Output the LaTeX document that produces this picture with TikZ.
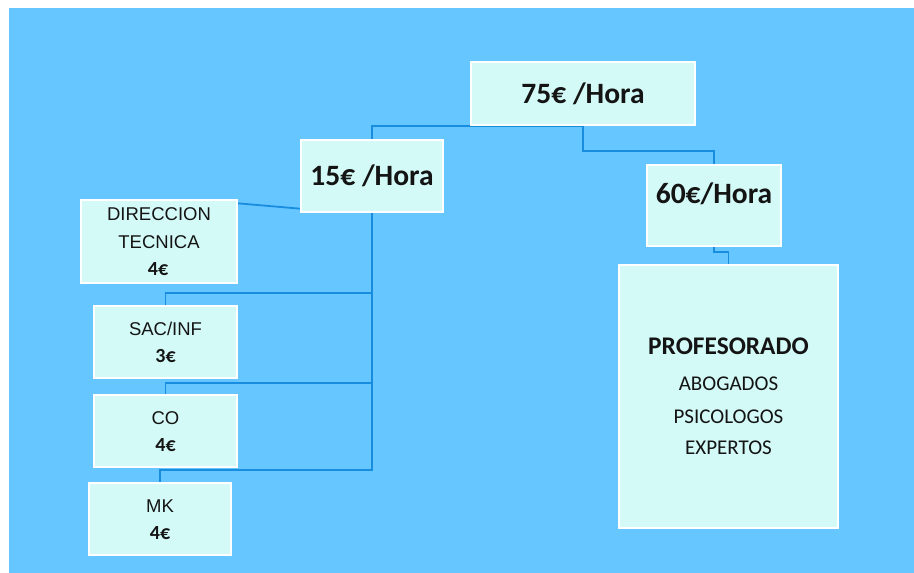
\documentclass[tikz,border=0pt]{standalone}
\usepackage{fontspec}
\setmainfont{Carlito}
\newfontfamily\arialf{Liberation Sans}
\usetikzlibrary{calc,backgrounds}
\definecolor{bgblue}{RGB}{102,198,255}
\definecolor{boxfill}{RGB}{211,250,247}
\definecolor{connc}{RGB}{24,140,222}
\definecolor{txt}{RGB}{20,20,20}
\tikzset{
  box/.style={draw=white, line width=1.4pt, fill=boxfill, inner sep=0pt},
  conn/.style={draw=connc, line width=1.8pt},
  head/.style={anchor=base, text=txt, inner sep=0pt, font=\fontsize{29.5}{31}\selectfont\bfseries},
  lab/.style={anchor=base, text=txt, inner sep=0pt, font=\arialf\fontsize{18.5}{20}\selectfont},
  price/.style={anchor=base, text=txt, inner sep=0pt, font=\fontsize{20}{22}\selectfont\bfseries},
  proft/.style={anchor=base, text=txt, inner sep=0pt, font=\fontsize{25.4}{27}\selectfont\bfseries},
  profl/.style={anchor=base, text=txt, inner sep=0pt, font=\fontsize{21}{23}\selectfont}
}
\begin{document}
\begin{tikzpicture}[x=1pt,y=-1pt]
\useasboundingbox (0,0) rectangle (914,573);
% boxes
\node[box, minimum width=224pt, minimum height=63pt] (top) at (583,93.5) {};
\node[box, minimum width=142pt, minimum height=72pt] (mid) at (372,176) {};
\node[box, minimum width=134pt, minimum height=81pt] (right) at (714,205.5) {};
\node[box, minimum width=156pt, minimum height=83pt] (dir) at (159,241.5) {};
\node[box, minimum width=143pt, minimum height=72pt] (sac) at (165.5,342) {};
\node[box, minimum width=143pt, minimum height=72pt] (co) at (165.5,431) {};
\node[box, minimum width=142pt, minimum height=72pt] (mk) at (160,519) {};
\node[box, minimum width=219pt, minimum height=263pt] (prof) at (728.5,396.5) {};
% texts
\node[head] (ttop) at (583,103) {75€ /Hora};
\node[head] (tmid) at (372,185) {15€ /Hora};
\node[head] (tright) at (714,203) {60€/Hora};
\node[lab] (tdir1) at (159,220) {DIRECCION};
\node[lab] (tdir2) at (159,248) {TECNICA};
\node[price] (tdir3) at (158,275) {4€};
\node[lab] (tsac1) at (165.5,335) {SAC/INF};
\node[price] (tsac2) at (165.5,362) {3€};
\node[lab] (tco1) at (165.5,424) {CO};
\node[price] (tco2) at (165.5,451) {4€};
\node[lab] (tmk1) at (160,512) {MK};
\node[price] (tmk2) at (160,539) {4€};
\node[proft] (tprof1) at (728.5,354) {PROFESORADO};
\node[profl] (tprof2) at (728.5,390) {ABOGADOS};
\node[profl] (tprof3) at (728.5,423) {PSICOLOGOS};
\node[profl] (tprof4) at (728.5,454) {EXPERTOS};
\begin{pgfonlayer}{background}
\fill[white] (0,0) rectangle (914,573);
\fill[bgblue] (9,8) rectangle (914,573);
\draw[conn] (top.south) -| (mid.north);
\draw[conn] (top.south) -- ++(0,25) -| (right.north);
\draw[conn] ($(dir.north east)+(0,4)$) -- ($(mid.south west)+(0,-4)$);
\draw[conn] (mid.south) -- ++(0,257) -| (mk.north);
\draw[conn] (mid.south) -- ++(0,80) -| (sac.north);
\draw[conn] (mid.south) -- ++(0,170) -| (co.north);
\draw[conn] (right.south) -- ++(0,5) -| (prof.north);
\end{pgfonlayer}
\end{tikzpicture}
\end{document}
